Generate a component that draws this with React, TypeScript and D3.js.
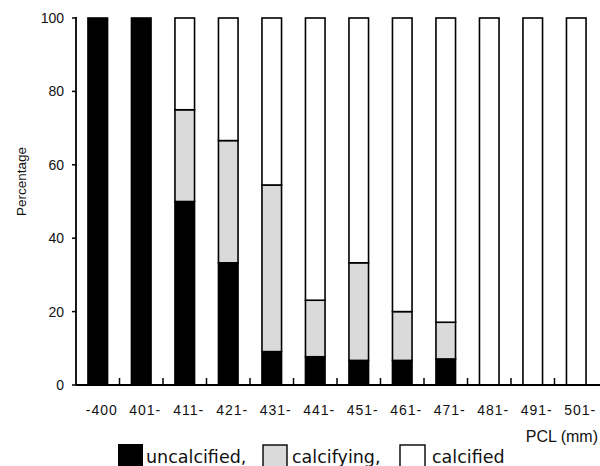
import * as d3 from 'd3';
import React from 'react';

const categories = ['-400', '401-', '411-', '421-', '431-', '441-', '451-', '461-', '471-', '481-', '491-', '501-'];
const uncalcified = [100, 100, 50, 33.3, 9.1, 7.7, 6.7, 6.7, 7.1, 0, 0, 0];
const calcifying = [0, 0, 25, 33.3, 45.4, 15.4, 26.6, 13.3, 10.0, 0, 0, 0];
const calcified = categories.map((_, i) => 100 - uncalcified[i] - calcifying[i]);
const yTicks = [0, 20, 40, 60, 80, 100];

const width = 600, height = 466;
const margin = { top: 18, right: 2, bottom: 81, left: 76 };
const font = '"Liberation Sans", Arial, sans-serif';
const legendFont = '"DejaVu Sans", sans-serif';
const grayFill = '#dadada';

export default function App() {
  const x = d3.scaleBand().domain(categories).range([margin.left, width - margin.right]).paddingInner(0.55).paddingOuter(0.275);
  const y = d3.scaleLinear().domain([0, 100]).range([height - margin.bottom, margin.top]);
  const y0 = y(0);

  const stacks = categories.map((c, i) => {
    const a = uncalcified[i], b = calcifying[i], d = calcified[i];
    return [
      { key: 'u', lo: 0, hi: a, fill: '#000' },
      { key: 'g', lo: a, hi: a + b, fill: grayFill },
      { key: 'c', lo: a + b, hi: a + b + d, fill: '#fff' },
    ].filter((s) => s.hi - s.lo > 0.01).map((s) => ({ ...s, cat: c }));
  });

  const step = x.step();
  const boundaries = categories.slice(0, -1).map((c) => (x(c) as number) + x.bandwidth() / 2 + step / 2);

  return (
    <svg width={width} height={height} style={{ position: 'absolute', left: 0, top: 0, background: '#fff' }}>
      {stacks.map((segs, i) => (
        <g key={categories[i]}>
          {segs.map((s) => (
            <rect
              key={s.key}
              x={x(s.cat)}
              y={y(s.hi)}
              width={x.bandwidth()}
              height={y(s.lo) - y(s.hi)}
              fill={s.fill}
              stroke="#000"
              strokeWidth={1.6}
            />
          ))}
        </g>
      ))}
      {/* axes */}
      <line x1={margin.left} x2={margin.left} y1={margin.top - 1} y2={y0} stroke="#000" strokeWidth={1.8} />
      <line x1={margin.left} x2={width} y1={y0} y2={y0} stroke="#000" strokeWidth={1.8} />
      {yTicks.map((t) => (
        <g key={t}>
          <line x1={margin.left - 4} x2={margin.left} y1={y(t)} y2={y(t)} stroke="#000" strokeWidth={1.5} />
          <text x={margin.left - 12} y={y(t)} dy="0.35em" textAnchor="end" fontFamily={font} fontSize={14} fill="#111">
            {t}
          </text>
        </g>
      ))}
      {boundaries.map((bx, i) => (
        <line key={i} x1={bx} x2={bx} y1={y0} y2={y0 - 7} stroke="#000" strokeWidth={1.5} />
      ))}
      {categories.map((c) => (
        <text
          key={c}
          x={(x(c) as number) + x.bandwidth() / 2 + 4}
          y={y0 + 30}
          textAnchor="middle"
          fontFamily={font}
          fontSize={14}
          letterSpacing={1}
          fill="#111"
        >
          {c}
        </text>
      ))}
      <text x={598} y={442} textAnchor="end" fontFamily={font} fontSize={16} fill="#111">
        PCL (mm)
      </text>
      <text
        transform={`translate(26, ${(margin.top + y0) / 2 - 20}) rotate(-90)`}
        textAnchor="middle"
        fontFamily={font}
        fontSize={13.5}
        fill="#111"
      >
        Percentage
      </text>
      {/* legend */}
      <g fontFamily={legendFont} fontSize={17.5} fill="#111">
        <rect x={118} y={444} width={25} height={25} fill="#000" />
        <text x={146} y={463}>uncalcified,</text>
        <rect x={263} y={445} width={24} height={22} fill={grayFill} stroke="#000" strokeWidth={1.4} />
        <text x={292} y={463}>calcifying,</text>
        <rect x={400} y={445} width={25} height={22} fill="#fff" stroke="#000" strokeWidth={1.4} />
        <text x={432} y={463}>calcified</text>
      </g>
    </svg>
  );
}
